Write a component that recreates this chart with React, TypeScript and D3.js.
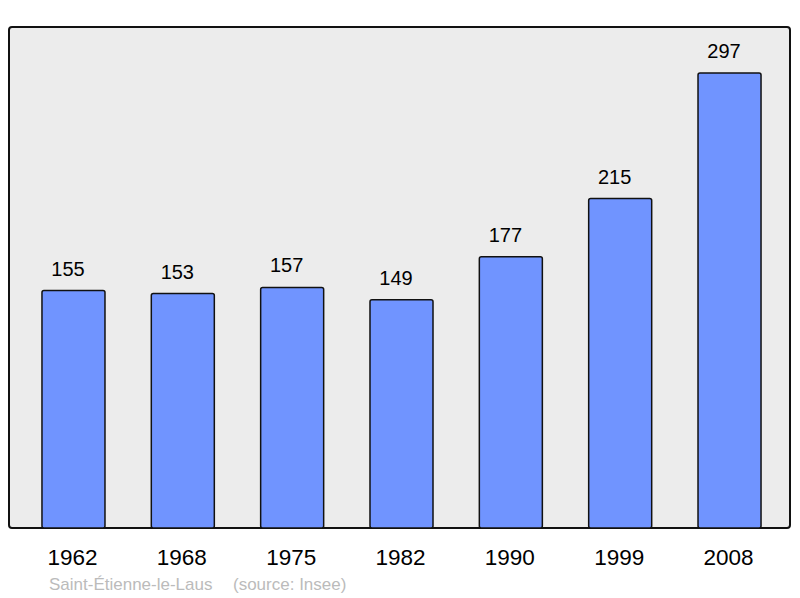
import React from 'react';
import * as d3 from 'd3';

// recensements
const annees = ['1962', '1968', '1975', '1982', '1990', '1999', '2008'];
const population = [155, 153, 157, 149, 177, 215, 297];
const commune = 'Saint-Étienne-le-Laus';
const source = '(source: Insee)';

const W = 800;
const H = 598;
const panel = { left: 9, top: 27, right: 790, bottom: 528 };

const App = () => {
  const x = d3.scaleBand<string>()
    .domain(annees)
    .range([18.8, 784.2])
    .paddingInner(0.4237)
    .paddingOuter(0.2119);

  const y = d3.scaleLinear()
    .domain([0, 327])
    .range([panel.bottom, panel.top]);

  const font = '"Liberation Sans", Arial, sans-serif';

  return (
    <svg width={W} height={H} style={{ position: 'absolute', left: 0, top: 0 }}>
      <rect x={0} y={0} width={W} height={H} fill="#fff" />
      <rect
        x={panel.left}
        y={panel.top}
        width={panel.right - panel.left}
        height={panel.bottom - panel.top}
        rx={3}
        fill="#ececec"
        stroke="#111"
        strokeWidth={2}
      />
      {annees.map((a, i) => {
        const cx = (x(a) || 0) + x.bandwidth() / 2;
        return (
          <g key={a}>
            <rect
              x={x(a)}
              y={y(population[i])}
              width={x.bandwidth()}
              height={y(0) - y(population[i])}
              rx={2}
              fill="#7094ff"
              stroke="#111"
              strokeWidth={1.5}
            />
            {/* les valeurs sont un peu décalées à gauche */}
            <text
              x={cx - 5.5}
              y={y(population[i]) - 15}
              textAnchor="middle"
              fontFamily={font}
              fontSize={20}
              fill="#000"
            >
              {population[i]}
            </text>
            <text
              x={cx - 1}
              y={565}
              textAnchor="middle"
              fontFamily={font}
              fontSize={22.5}
              fill="#000"
            >
              {a}
            </text>
          </g>
        );
      })}
      <text x={49} y={590} fontFamily={font} fontSize={17} fill="#bbb">
        <tspan>{commune}</tspan>
        <tspan x={233}>{source}</tspan>
      </text>
    </svg>
  );
};

export default App;
